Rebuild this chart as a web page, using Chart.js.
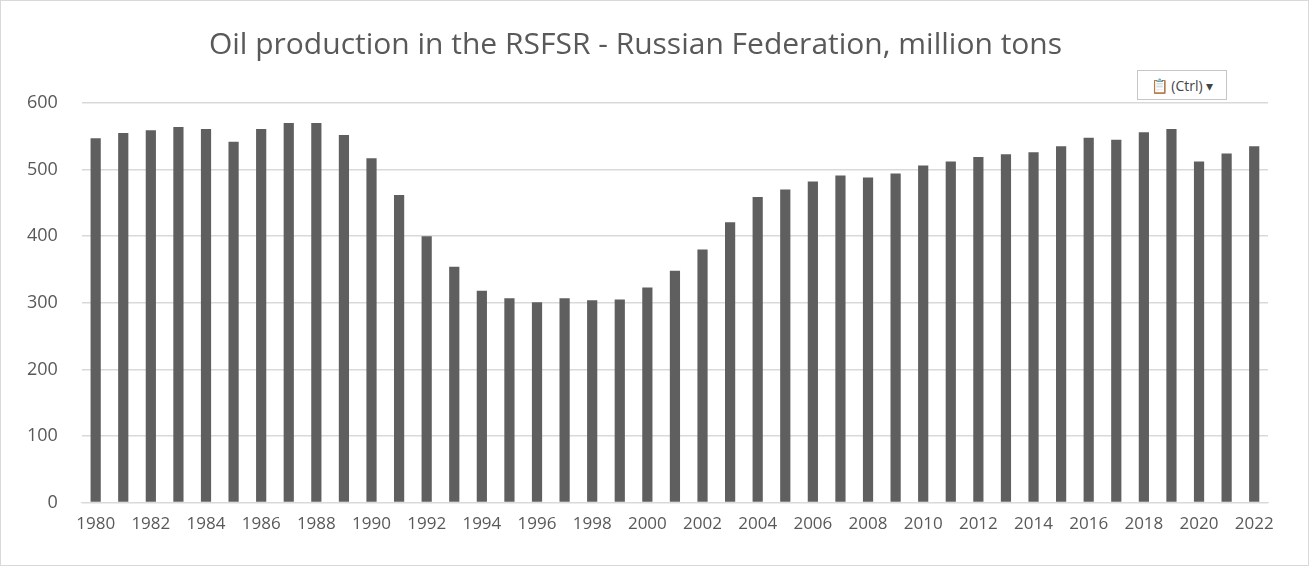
<!DOCTYPE html>
<html>
<head>
<meta charset="utf-8">
<script src="https://cdn.jsdelivr.net/npm/chart.js@4"></script>
<style>
  html, body { margin: 0; padding: 0; background: #fff; }
  .frame { position: relative; width: 1307px; height: 564px; border: 1px solid #d9d9d9; }
  canvas { display: block; }
  .paste { position: absolute; left: 1136px; top: 69px; width: 90px; height: 30px; border: 1px solid #c6c6c6;
    background: #fff; font: 14px "Open Sans", sans-serif; color: #444; display: flex; align-items: center; justify-content: center; box-sizing: border-box; }
</style>
</head>
<body>
<div class="frame">
  <canvas id="chart-oil" width="1307" height="564"></canvas>
  <div class="paste">📋 (Ctrl) ▾</div>
</div>
<script>
const years = [];
for (let y = 1980; y <= 2022; y++) years.push(String(y));

const production = [
  547, 555, 559, 564, 561, 542, 561, 570, 570, 552,
  517, 462, 400, 354, 318, 307, 301, 307, 304, 305,
  323, 348, 380, 421, 459, 470, 482, 491, 488, 494,
  506, 512, 519, 523, 526, 535, 548, 545, 556, 561,
  512, 524, 535,
];

const yTicks = [0, 100, 200, 300, 400, 500, 600];

const ctx = document.getElementById('chart-oil').getContext('2d');
new Chart(ctx, {
  type: 'bar',
  data: {
    labels: years,
    datasets: [{
      label: 'Oil production',
      data: production,
      backgroundColor: '#5f5f5f',
      categoryPercentage: 1,
      barPercentage: 0.37,
    }],
  },
  options: {
    responsive: false,
    animation: false,
    layout: { padding: { left: 2, right: 40, top: 10, bottom: 28 } },
    plugins: {
      legend: { display: false },
      tooltip: { enabled: false },
      title: {
        display: true,
        text: 'Oil production in the RSFSR - Russian Federation, million tons',
        color: '#595959',
        font: { family: "'Open Sans', sans-serif", size: 30, weight: 'normal' },
        padding: { top: 16, bottom: 40 },
      },
    },
    scales: {
      x: {
        grid: { display: false },
        border: { color: '#d9d9d9' },
        ticks: {
          color: '#595959',
          font: { family: "'Open Sans', sans-serif", size: 17 },
          autoSkip: false,
          maxRotation: 0,
          callback: (value, index) => (index % 2 === 0 ? years[index] : ''),
        },
      },
      y: {
        min: 0,
        max: 600,
        afterBuildTicks: (axis) => { axis.ticks = yTicks.map((v) => ({ value: v })); },
        grid: { color: '#d9d9d9', lineWidth: 1.5, drawTicks: false },
        border: { display: false },
        ticks: {
          color: '#595959',
          padding: 24,
          font: { family: "'Open Sans', sans-serif", size: 18 },
        },
      },
    },
  },
});
</script>
</body>
</html>
